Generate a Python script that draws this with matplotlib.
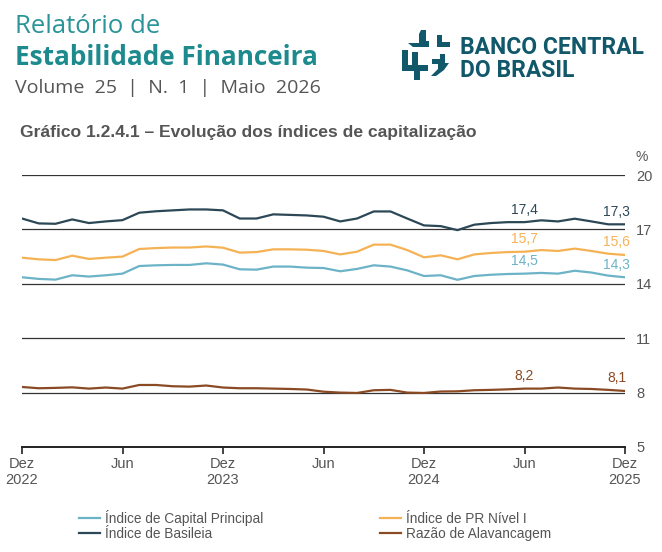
import matplotlib.pyplot as plt
from matplotlib.patches import Polygon

# monthly values, Dez 2022 .. Dez 2025
capital_principal = [14.36, 14.27, 14.23, 14.47, 14.40, 14.47, 14.56, 14.98, 15.02, 15.04, 15.04, 15.13, 15.06,
                     14.80, 14.78, 14.95, 14.95, 14.89, 14.87, 14.69, 14.82, 15.02, 14.95, 14.74, 14.43,
                     14.47, 14.22, 14.43, 14.50, 14.54, 14.56, 14.60, 14.56, 14.72, 14.62, 14.45, 14.36]
pr_nivel_1 = [15.44, 15.35, 15.31, 15.55, 15.37, 15.44, 15.50, 15.92, 15.97, 16.00, 16.00, 16.06, 15.99,
              15.72, 15.75, 15.90, 15.90, 15.88, 15.81, 15.62, 15.77, 16.16, 16.16, 15.86, 15.46,
              15.57, 15.35, 15.62, 15.70, 15.75, 15.77, 15.86, 15.81, 15.94, 15.81, 15.66, 15.59]
basileia = [17.60, 17.33, 17.31, 17.55, 17.35, 17.44, 17.51, 17.92, 18.00, 18.05, 18.10, 18.10, 18.05,
            17.60, 17.60, 17.83, 17.80, 17.77, 17.70, 17.44, 17.60, 17.99, 17.99, 17.60, 17.22,
            17.18, 16.96, 17.26, 17.35, 17.40, 17.40, 17.50, 17.44, 17.59, 17.44, 17.28, 17.28]
alavancagem = [8.31, 8.24, 8.26, 8.29, 8.22, 8.28, 8.22, 8.42, 8.42, 8.35, 8.33, 8.39, 8.28,
               8.24, 8.24, 8.22, 8.20, 8.17, 8.05, 8.00, 7.98, 8.13, 8.15, 8.00, 7.98,
               8.06, 8.07, 8.13, 8.15, 8.18, 8.22, 8.22, 8.28, 8.22, 8.20, 8.15, 8.09]
months = list(range(len(basileia)))

tick_pos = [0, 6, 12, 18, 24, 30, 36]
tick_labels = ['Dez\n2022', 'Jun', 'Dez\n2023', 'Jun', 'Dez\n2024', 'Jun', 'Dez\n2025']
y_ticks = [5, 8, 11, 14, 17, 20]

series = [
    ('Índice de Capital Principal', capital_principal, '#6cb3c8', [(30, '14,5'), (36, '14,3')]),
    ('Índice de PR Nível I', pr_nivel_1, '#f5b255', [(30, '15,7'), (36, '15,6')]),
    ('Índice de Basileia', basileia, '#2c4856', [(30, '17,4'), (36, '17,3')]),
    ('Razão de Alavancagem', alavancagem, '#8a4b24', [(30, '8,2'), (36, '8,1')]),
]

W, H = 662, 552
fig = plt.figure(figsize=(W / 100, H / 100), dpi=100)

# header drawn in pixel coordinates
hdr = fig.add_axes([0, 0, 1, 1])
hdr.set_xlim(0, W)
hdr.set_ylim(H, 0)
hdr.axis('off')
hdr.text(15, 33, 'Relatório de', fontsize=18.5, color='#2a9499', family='Open Sans', va='baseline')
hdr.text(15, 65, 'Estabilidade Financeira', fontsize=18.8, color='#1d8a8e', family='Open Sans',
         fontweight='bold', va='baseline')
hdr.text(15, 93, 'Volume  25  |  N.  1  |  Maio  2026', fontsize=14, color='#555555',
         family='Open Sans', va='baseline')
hdr.text(460, 54, 'BANCO CENTRAL', fontsize=16.5, color='#11586a', family='Roboto',
         fontweight='bold', va='baseline')
hdr.text(460, 77, 'DO BRASIL', fontsize=16.5, color='#11586a', family='Roboto',
         fontweight='bold', va='baseline')
logo_shapes = [
    [(421, 30), (426, 30), (426, 41), (429, 41), (429, 47), (413, 47), (408, 43), (419, 43), (419, 34)],
    [(437, 35), (442, 35), (442, 42), (450, 42), (450, 47), (437, 47)],
    [(402, 50), (408, 50), (408, 65), (412, 65), (412, 52), (418, 52), (418, 65), (428, 65),
     (428, 71), (420, 71), (420, 80), (414, 80), (414, 71), (402, 71)],
    [(440, 54), (445, 54), (445, 63), (449, 63), (444, 70), (436, 76), (431, 76), (438, 69),
     (438, 64), (432, 64), (432, 59), (440, 59)],
]
for pts in logo_shapes:
    hdr.add_patch(Polygon(pts, closed=True, color='#11586a', lw=0))
hdr.text(20, 132, 'Gráfico 1.2.4.1 – Evolução dos índices de capitalização', fontsize=12.6,
         color='#555555', family='Liberation Sans', fontweight='bold', va='center')

ax = fig.add_axes([22 / W, 1 - 447 / H, (625 - 22) / W, (447 - 175) / H])
for name, vals, color, labels in series:
    ax.plot(months, vals, color=color, lw=1.6, label=name, zorder=3)
    for i, txt in labels:
        ax.annotate(txt, (months[i], vals[i]), xytext=(-6 if i == 36 else 0, 4),
                    textcoords='offset points', ha='center', va='bottom',
                    fontsize=10, color=color, family='Liberation Sans')

ax.set_xlim(0, 36)
ax.set_ylim(5, 20)
for y in y_ticks[1:]:
    ax.axhline(y, color='#333333', lw=0.9, zorder=1)
for s in ['top', 'left', 'right']:
    ax.spines[s].set_visible(False)
ax.spines['bottom'].set_linewidth(1.4)
ax.spines['bottom'].set_color('#222222')
ax.yaxis.tick_right()
ax.set_yticks(y_ticks)
ax.tick_params(axis='y', length=0, pad=8, labelsize=10.5, labelcolor='#555555')
ax.set_xticks(tick_pos)
ax.set_xticklabels(tick_labels)
ax.tick_params(axis='x', length=5, width=1.2, color='#222222', labelsize=10.5, labelcolor='#555555', pad=2)
for lbl in ax.get_xticklabels() + ax.get_yticklabels():
    lbl.set_family('Liberation Sans')
ax.text(1.028, 1.04, '%', transform=ax.transAxes, fontsize=10, color='#555555',
        family='Liberation Sans', ha='center', va='bottom')

handles, names = ax.get_legend_handles_labels()
order = [0, 2, 1, 3]
fig.legend([handles[i] for i in order], [names[i] for i in order], ncol=2,
           loc='upper left', bbox_to_anchor=(67 / W, 1 - 498 / H), frameon=False,
           handlelength=1.5, handletextpad=0.4, columnspacing=8.6, labelspacing=0.05,
           prop={'family': 'Liberation Sans', 'size': 9.8}, labelcolor='#555555')

fig.savefig('out.png', dpi=100)
